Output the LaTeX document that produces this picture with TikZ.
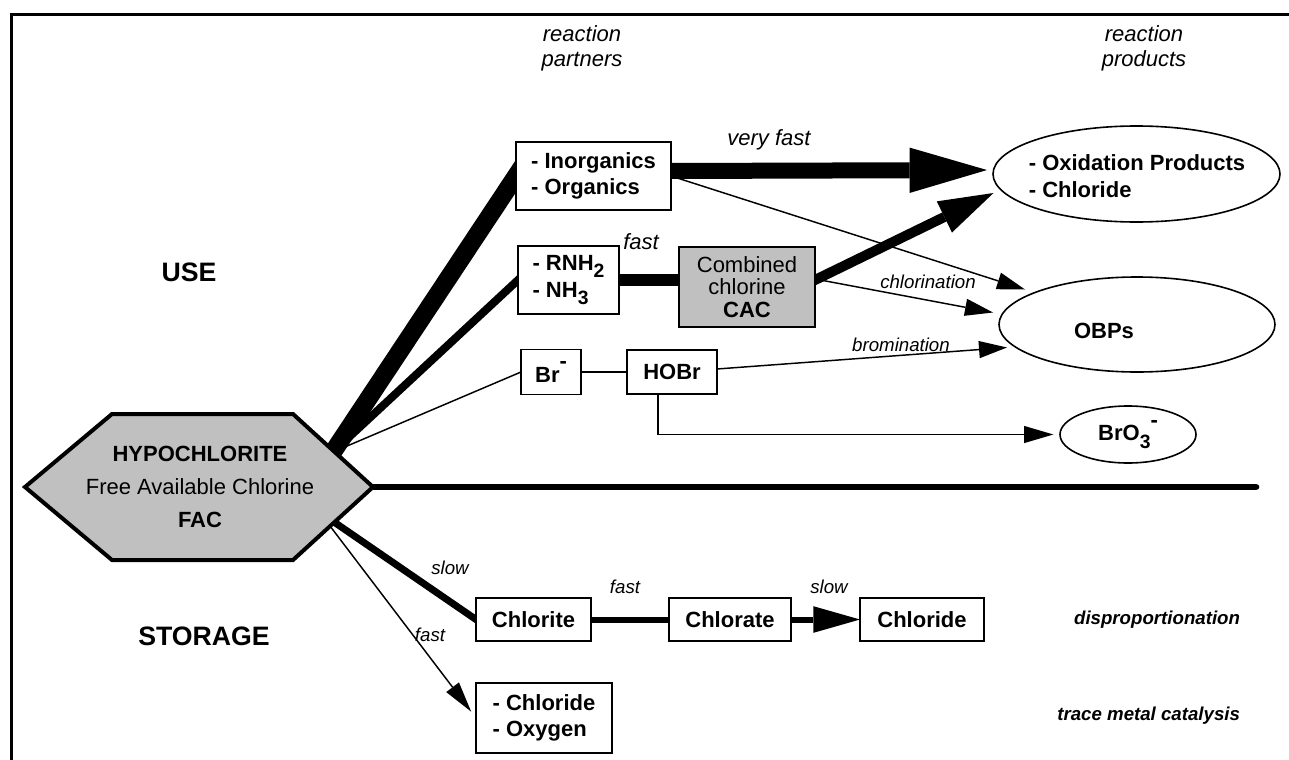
\documentclass[tikz,border=0pt]{standalone}
\usepackage{fontspec}
\setmainfont{Liberation Sans}
\usetikzlibrary{arrows.meta,shapes.geometric,calc}
\definecolor{fillgray}{RGB}{192,192,192}
\pgfdeclarelayer{bg}
\pgfsetlayers{bg,main}
\newcommand{\sbs}[1]{\raisebox{-0.32em}{\fontsize{14.5}{14.5}\selectfont #1}}
\newcommand{\sps}[1]{\raisebox{0.6em}{#1}}
\begin{document}
\begin{tikzpicture}[x=0.75pt,y=-0.75pt,
  every node/.style={inner sep=0pt,outer sep=0pt},
  bx/.style={draw,line width=1.2pt,fill=white,align=left,font=\fontsize{16.5}{20}\selectfont\bfseries},
  gbx/.style={draw,line width=1.2pt,fill=fillgray,align=center,font=\fontsize{16.5}{17}\selectfont},
  prd/.style={draw,ellipse,line width=1.2pt,fill=white},
  ptxt/.style={align=left,font=\fontsize{16.5}{20}\selectfont\bfseries},
  lb/.style={font=\fontsize{14}{16}\selectfont\itshape},
  lbb/.style={align=center,font=\fontsize{16.5}{19}\selectfont\itshape},
  capt/.style={font=\fontsize{14}{16}\selectfont\bfseries\itshape,anchor=east},
  hdr/.style={font=\fontsize{20}{22}\selectfont\bfseries},
  tline/.style={line width=1.1pt},
  ar/.style 2 args={-{Triangle[length=#1,width=#2,line width=0pt]}},
  sar/.style={-{Triangle[length=21pt,width=13pt,line width=0pt]}}
]
\useasboundingbox (0,0) rectangle (1289,760);
\draw[line width=2.25pt] (11,762) -- (11,14) -- (1291,14);

% boxes
\node[bx,minimum width=116.25pt,minimum height=51pt] (inorg) at (593.5,176) {- Inorganics\\- Organics};
\node[bx,minimum width=75.75pt,minimum height=51pt] (rnh) at (568.5,280) {- RNH\sbs{2}\\- NH\sbs{3}};
\node[gbx,minimum width=102pt,minimum height=60pt] (cac) at (747,287) {Combined\\chlorine\\\textbf{CAC}};
\node[bx,minimum width=45pt,minimum height=33.75pt] (br) at (551,372) {Br\sps{-}};
\node[bx,minimum width=67.5pt,minimum height=33pt] (hobr) at (672,372) {HOBr};
\node[prd,minimum width=215.25pt,minimum height=72pt] (ox) at (1136.5,174) {};
\node[ptxt] (oxt) at (1137,176) {- Oxidation Products\\- Chloride};
\node[prd,minimum width=207pt,minimum height=71.25pt] (obp) at (1137,324.5) {};
\node[ptxt] (obpt) at (1104,331) {OBPs};
\node[prd,minimum width=102pt,minimum height=42.75pt,font=\fontsize{16.5}{20}\selectfont\bfseries] (bro) at (1128,434.5) {BrO\sbs{3}\sps{-}};
\node[bx,minimum width=86.25pt,minimum height=32.25pt] (chlorite) at (533.5,619.5) {Chlorite};
\node[bx,minimum width=91.5pt,minimum height=32.25pt] (chlorate) at (730,619.5) {Chlorate};
\node[bx,minimum width=93pt,minimum height=32.25pt] (chloride) at (922,619.5) {Chloride};
\node[bx,minimum width=102pt,minimum height=52.5pt] (chox) at (544,718) {- Chloride\\- Oxygen};

% hexagon
\filldraw[fill=fillgray,line width=3pt,line join=miter] (25,487) -- (112,414) -- (293,414) -- (373,487) -- (293,560) -- (112,560) -- cycle;
\node[align=center,font=\fontsize{16.5}{25}\selectfont] (fac) at (200,487) {\textbf{HYPOCHLORITE}\\Free Available Chlorine\\\textbf{FAC}};

% coordinates
\coordinate (fo) at (333,452);
\coordinate (so) at (334,522);
\coordinate (sf) at (330,526);
\coordinate (hr) at (373,487);
\coordinate (dv) at (1256,487);
\coordinate (hb) at ($(hobr.south)+(-14,0)$);

% labels
\node[lbb] (lrp) at (582,48) {reaction\\partners};
\node[lbb] (lrpr) at (1144,48) {reaction\\products};
\node[lbb] (lvf) at (769,140) {very fast};
\node[lbb] (lf1) at (641,242) {fast};
\node[lb] (lchl) at (928,282) {chlorination};
\node[lb] (lbrm) at (901,345) {bromination};
\node[lb] (ls1) at (450,568) {slow};
\node[lb] (lf2) at (625,587) {fast};
\node[lb] (ls2) at (829,587) {slow};
\node[lb] (lf3) at (430,635) {fast};
\node[capt] (ldis) at (1240,620) {disproportionation};
\node[capt] (ltmc) at (1240,716) {trace metal catalysis};
\node[hdr] (use) at (189,272) {USE};
\node[hdr] (sto) at (204,636) {STORAGE};

% connectors
\begin{pgfonlayer}{bg}
\fill[white] (0,0) rectangle (1289,760);
\draw[line width=13.5pt,shorten <=-16pt,shorten >=-10pt] (fo) -- (inorg.west);
\draw[line width=6pt,shorten <=-16pt,shorten >=-6pt] (fo) -- (rnh.west);
\draw[tline,shorten <=-16pt] (fo) -- (br.west);
\draw[line width=5pt,line cap=round,shorten <=-12pt] (hr) -- (dv);
\draw[line width=12pt,ar={58pt}{34pt},shorten <=-5pt,shorten >=4.5pt] ($(inorg.east)+(0,-5)$) -- ($(ox.west)+(0,-4)$);
\draw[tline,sar] (inorg.east) -- ($(obp.center)+(-112,-35)$);
\draw[line width=9pt] (rnh.east) -- (rnh.east -| cac.west);
\draw[line width=7.5pt,ar={41pt}{26pt},shorten <=-5pt] ($(cac.east)+(0,-7)$) -- ($(ox.center)+(-143,19)$);
\draw[tline,sar] ($(cac.east)+(0,-8)$) -- ($(obp.center)+(-144,-12)$);
\draw[tline] (br.east) -- (hobr.west);
\draw[tline,sar] ($(hobr.east)+(0,-3)$) -- ($(obp.center)+(-130,23)$);
\draw[tline,ar={22pt}{13pt},shorten >=5pt] (hb) |- (bro.west);
\draw[line width=5.25pt,shorten <=-12pt,shorten >=-4pt] (so) -- (chlorite.west);
\draw[line width=4.5pt] (chlorite.east) -- (chlorate.west);
\draw[line width=4.5pt,ar={35pt}{20pt}] (chlorate.east) -- (chloride.west);
\draw[tline,ar={23pt}{12pt},shorten <=-12pt,shorten >=6pt] (sf) -- (chox.west);
\end{pgfonlayer}
\end{tikzpicture}
\end{document}
